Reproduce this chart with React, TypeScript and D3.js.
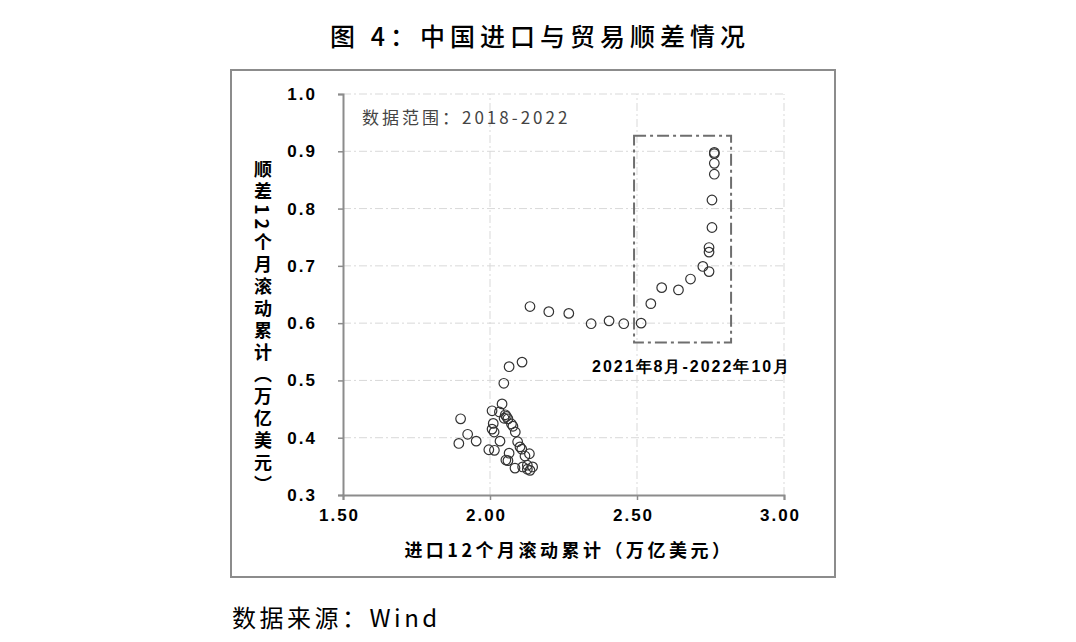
import React, { useEffect, useRef } from 'react'
import * as d3 from 'd3'

// --- DATA ---
// imports, 12-month rolling sum (trillion USD)
const importX = [
  1.894, 1.900, 1.924, 1.953, 1.996, 2.007, 2.007, 2.011, 2.014, 2.015,
  2.032, 2.034, 2.041, 2.047, 2.048, 2.052, 2.054, 2.056, 2.061, 2.061,
  2.065, 2.065, 2.073, 2.078, 2.085, 2.086, 2.094, 2.102, 2.108, 2.109,
  2.111, 2.119, 2.127, 2.127, 2.134, 2.136, 2.145, 2.136, 2.200, 2.268,
  2.344, 2.405, 2.455, 2.514, 2.547, 2.584, 2.641, 2.682, 2.724, 2.745,
  2.745, 2.745, 2.755, 2.755, 2.763, 2.763, 2.763, 2.763,
]
// trade surplus, 12-month rolling sum (trillion USD)
const surplusY = [
  0.390, 0.433, 0.406, 0.394, 0.379, 0.447, 0.415, 0.425, 0.410, 0.378,
  0.445, 0.394, 0.459, 0.495, 0.434, 0.440, 0.361, 0.437, 0.433, 0.360,
  0.373, 0.524, 0.424, 0.420, 0.347, 0.410, 0.393, 0.384, 0.380, 0.532,
  0.349, 0.368, 0.345, 0.352, 0.372, 0.343, 0.349, 0.629, 0.620, 0.617,
  0.599, 0.604, 0.599, 0.600, 0.634, 0.662, 0.658, 0.677, 0.699, 0.690,
  0.724, 0.732, 0.767, 0.815, 0.860, 0.879, 0.896, 0.898,
]
const xTicks = [1.5, 2.0, 2.5, 3.0]
const yTicks = [0.3, 0.4, 0.5, 0.6, 0.7, 0.8, 0.9, 1.0]
// highlighted window: 2021-08 to 2022-10
const boxX = [2.49, 2.82]
const boxY = [0.566, 0.927]

const CJK = '"Noto Sans CJK SC", "Noto Sans", sans-serif'
const NUM = '"Liberation Sans", Arial, sans-serif'

export default function App() {
  const ref = useRef<SVGSVGElement>(null)

  useEffect(() => {
    if (!ref.current) return
    const svg = d3.select(ref.current)
    svg.selectAll('*').remove()

    const x = d3.scaleLinear().domain([1.5, 3.0]).range([343, 784])
    const y = d3.scaleLinear().domain([0.3, 1.0]).range([495, 94])

    // title
    svg.append('text')
      .attr('x', 540).attr('y', 46)
      .attr('text-anchor', 'middle')
      .style('font-family', CJK)
      .style('font-size', '25px')
      .style('font-weight', '500')
      .style('letter-spacing', '5px')
      .attr('fill', '#000')
      .text('图 4：中国进口与贸易顺差情况')

    // outer frame
    svg.append('rect')
      .attr('x', 231).attr('y', 70)
      .attr('width', 604).attr('height', 507)
      .attr('fill', 'none')
      .attr('stroke', '#8c8c8c')
      .attr('stroke-width', 2)

    // gridlines
    const grid = svg.append('g')
    grid.selectAll('line.h')
      .data(yTicks.filter(d => d > 0.3))
      .enter().append('line')
      .attr('x1', x(1.5)).attr('x2', x(3.0))
      .attr('y1', d => y(d)).attr('y2', d => y(d))
      .attr('stroke', '#d9d9d9')
      .attr('stroke-dasharray', '8,3,2,3')
    grid.selectAll('line.v')
      .data(xTicks.filter(d => d > 1.5))
      .enter().append('line')
      .attr('x1', d => x(d)).attr('x2', d => x(d))
      .attr('y1', y(0.3)).attr('y2', y(1.0))
      .attr('stroke', '#d9d9d9')
      .attr('stroke-dasharray', '8,3,2,3')

    // axes
    const yAxis = svg.append('g')
      .attr('transform', `translate(${x(1.5)},0)`)
      .call(d3.axisLeft(y).tickValues(yTicks).tickSize(5).tickFormat(d3.format('.1f')))
    yAxis.select('.domain').attr('stroke', '#8c8c8c').attr('stroke-width', 2)
    yAxis.selectAll('line').attr('stroke', '#8c8c8c').attr('stroke-width', 1.5)
    yAxis.selectAll('text')
      .attr('x', -26)
      .style('font-family', NUM)
      .style('font-size', '17px')
      .style('font-weight', 'bold')
      .style('letter-spacing', '2px')
      .attr('fill', '#000')

    const xAxis = svg.append('g')
      .attr('transform', `translate(0,${y(0.3)})`)
      .call(d3.axisBottom(x).tickValues(xTicks).tickSize(5).tickFormat(d3.format('.2f')))
    xAxis.select('.domain').attr('stroke', '#8c8c8c').attr('stroke-width', 2)
    xAxis.selectAll('line').attr('stroke', '#8c8c8c').attr('stroke-width', 1.5)
    xAxis.selectAll('text')
      .attr('y', 14)
      .attr('x', -4)
      .style('font-family', NUM)
      .style('font-size', '17px')
      .style('font-weight', 'bold')
      .style('letter-spacing', '2px')
      .attr('fill', '#000')

    // axis titles
    svg.append('text')
      .attr('x', 569).attr('y', 557)
      .attr('text-anchor', 'middle')
      .style('font-family', CJK)
      .style('font-size', '18px')
      .style('font-weight', 'bold')
      .style('letter-spacing', '3.5px')
      .attr('fill', '#000')
      .text('进口12个月滚动累计（万亿美元）')

    svg.append('text')
      .attr('x', 263).attr('y', 160)
      .style('writing-mode', 'vertical-rl')
      .style('font-family', CJK)
      .style('font-size', '18px')
      .style('font-weight', 'bold')
      .style('letter-spacing', '4px')
      .attr('fill', '#000')
      .text('顺差12个月滚动累计（万亿美元）')

    // note
    svg.append('text')
      .attr('x', 362).attr('y', 124)
      .style('font-family', CJK)
      .style('font-size', '17px')
      .style('letter-spacing', '3px')
      .attr('fill', '#444')
      .text('数据范围：2018-2022')

    // highlight box
    svg.append('rect')
      .attr('x', x(boxX[0])).attr('y', y(boxY[1]))
      .attr('width', x(boxX[1]) - x(boxX[0]))
      .attr('height', y(boxY[0]) - y(boxY[1]))
      .attr('fill', 'none')
      .attr('stroke', '#6e6e6e')
      .attr('stroke-width', 2)
      .attr('stroke-dasharray', '12,4,3,4')

    svg.append('text')
      .attr('x', 592).attr('y', 372)
      .style('font-family', NUM)
      .style('font-size', '16px')
      .style('font-weight', 'bold')
      .style('letter-spacing', '2px')
      .attr('fill', '#000')
      .text('2021年8月-2022年10月')

    // scatter points
    svg.append('g')
      .selectAll('circle')
      .data(importX.map((v, i) => [v, surplusY[i]]))
      .enter().append('circle')
      .attr('cx', d => x(d[0]))
      .attr('cy', d => y(d[1]))
      .attr('r', 4.8)
      .attr('fill', 'none')
      .attr('stroke', '#333')
      .attr('stroke-width', 1.2)

    // source
    svg.append('text')
      .attr('x', 232).attr('y', 627)
      .style('font-family', CJK)
      .style('font-size', '24px')
      .style('letter-spacing', '3.5px')
      .attr('fill', '#000')
      .text('数据来源：Wind')
  }, [])

  return (
    <svg
      ref={ref}
      width={1076}
      height={642}
      style={{ position: 'absolute', left: 0, top: 0, background: '#fff' }}
    />
  )
}
